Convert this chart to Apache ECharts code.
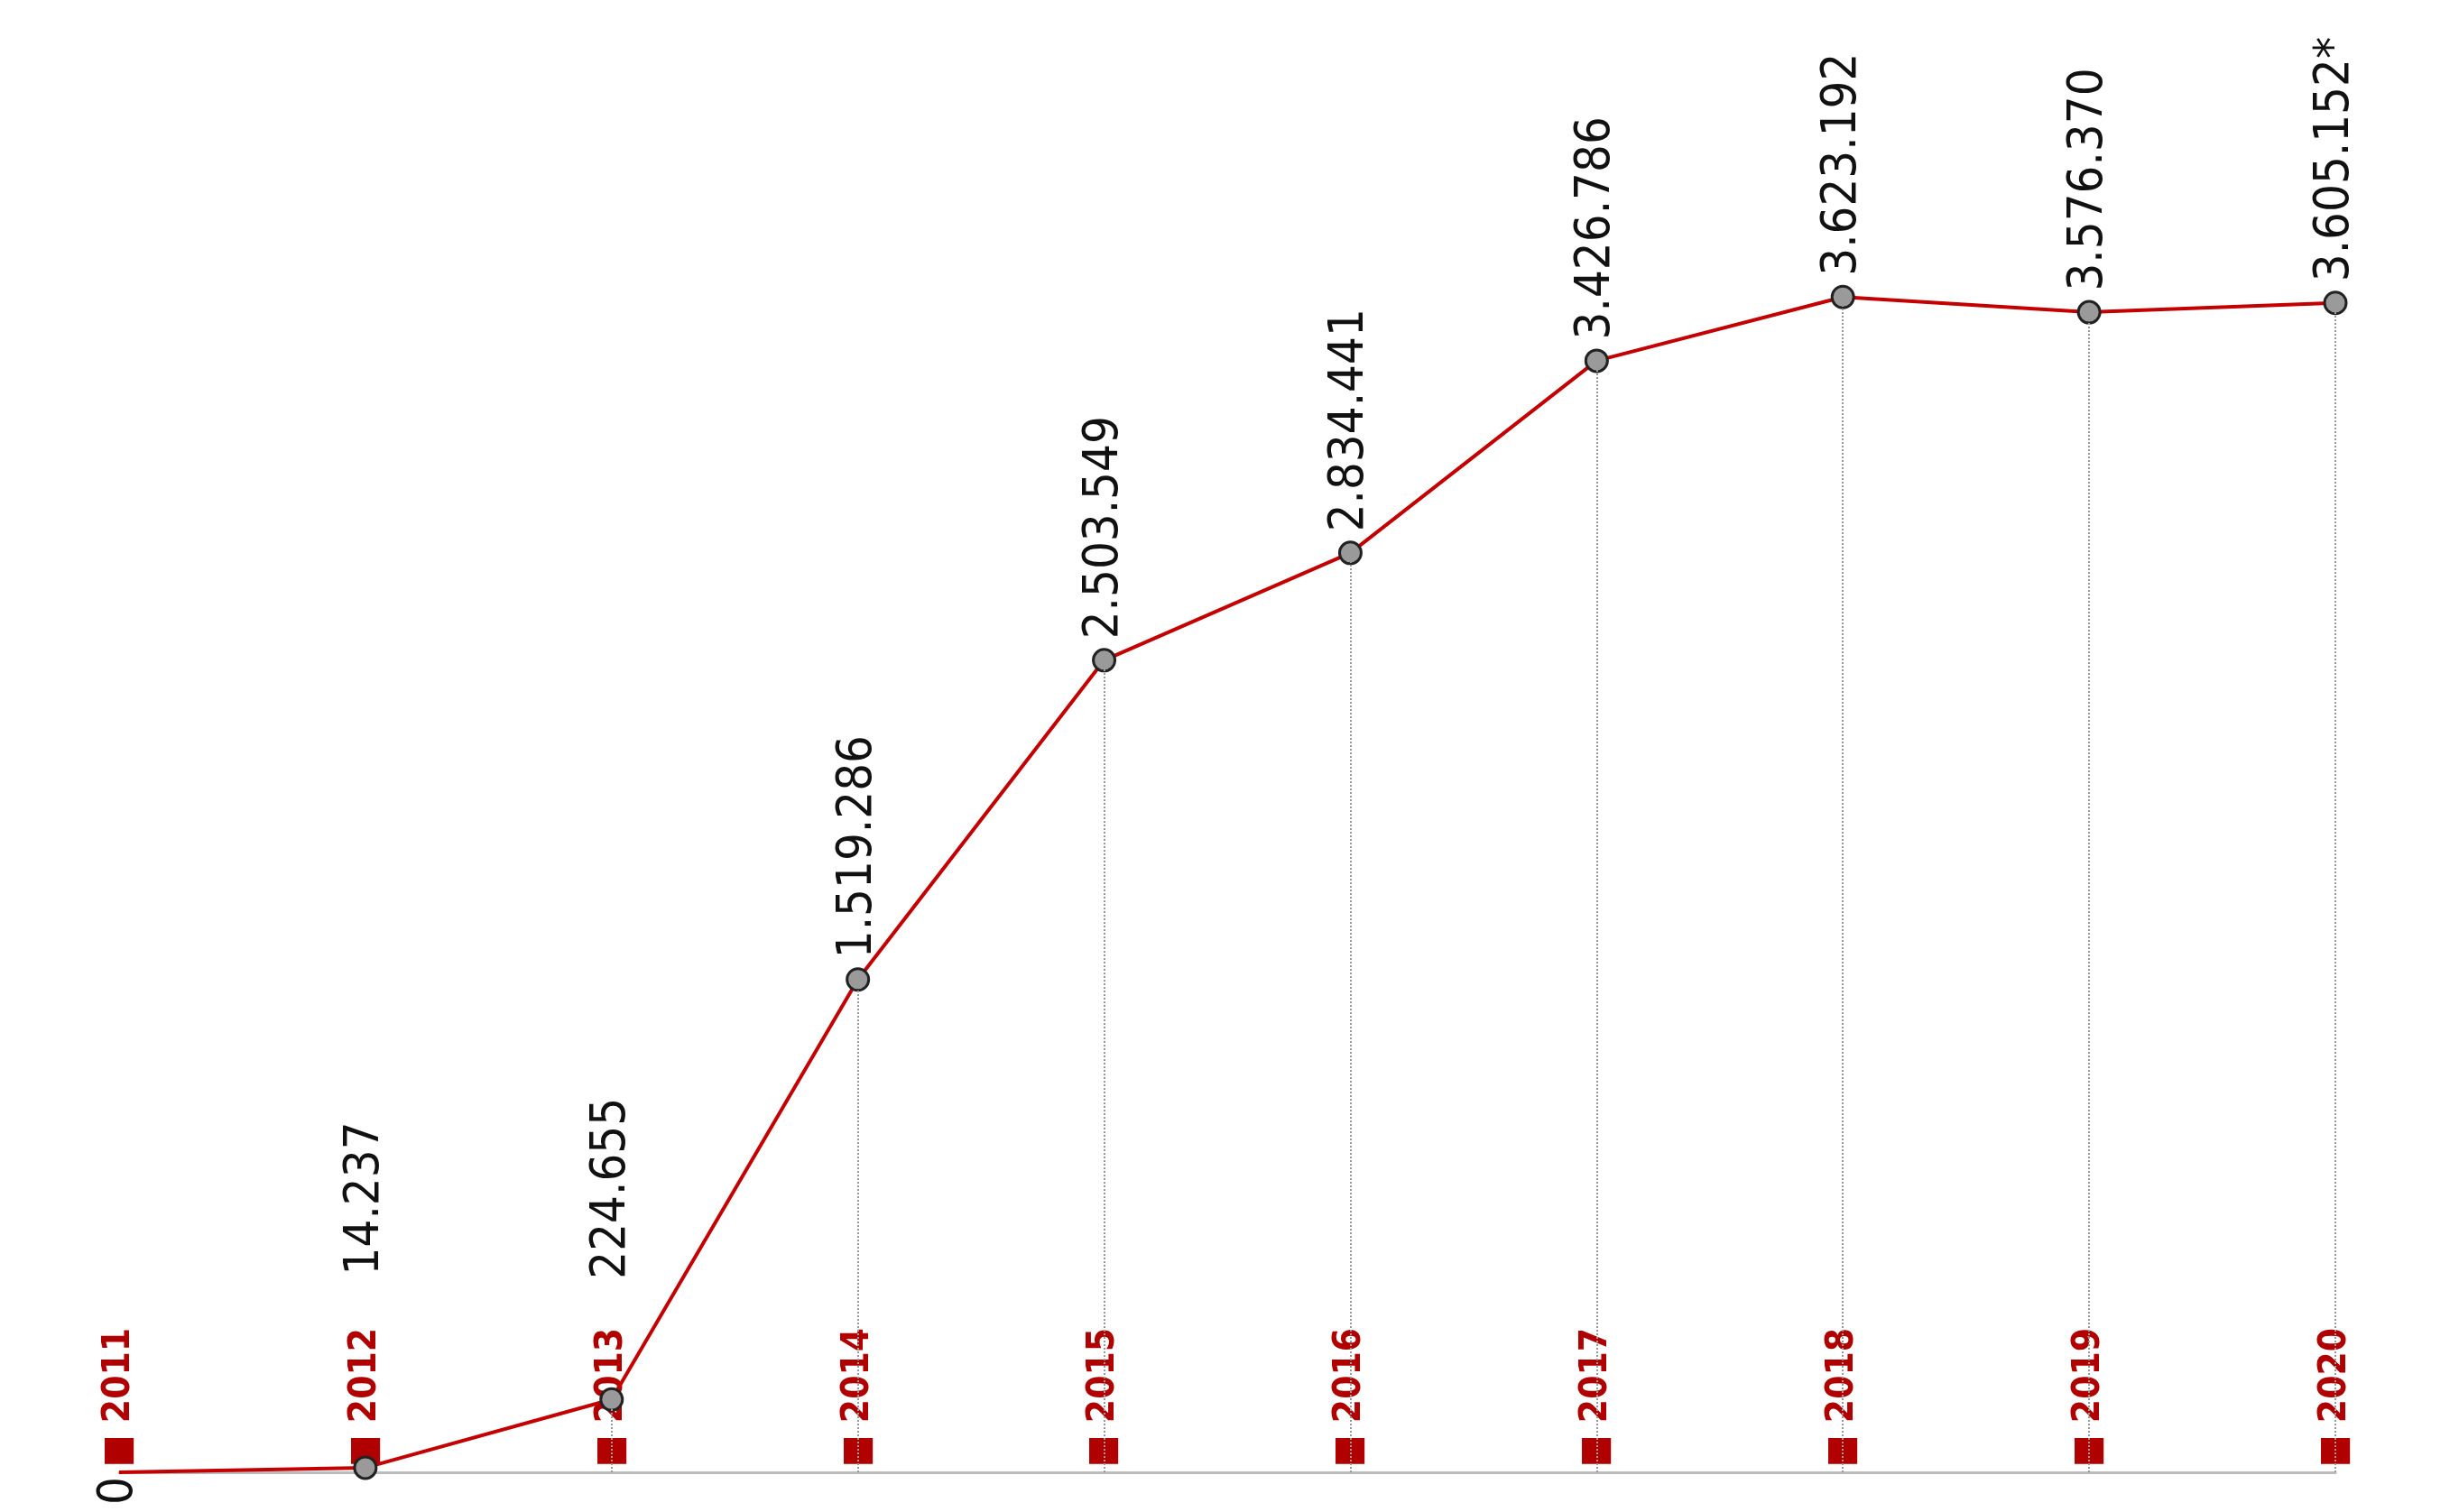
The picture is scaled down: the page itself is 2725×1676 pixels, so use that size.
<!DOCTYPE html>
<html>
<head>
<meta charset="utf-8">
<script src="https://cdn.jsdelivr.net/npm/echarts@6/dist/echarts.min.js"></script>
<style>html,body{margin:0;background:#fff}#c{width:2725px;height:1676px}</style>
</head>
<body>
<div id="c"></div>
<script>
const years = ['2011', '2012', '2013', '2014', '2015', '2016', '2017', '2018', '2019', '2020']
const values = [0, 14237, 224655, 1519286, 2503549, 2834441, 3426786, 3623192, 3576370, 3605152]
const notes = ['', '', '', '', '', '', '', '', '', '*']

const font = "'Liberation Sans Narrow', 'DejaVu Sans Condensed', 'Roboto', sans-serif"
const fmt = v => String(v).replace(/\B(?=(\d{3})+(?!\d))/g, '.')

// keep value labels of the lowest points clear of the year labels
const labelDistance = i => i === 1 ? 200 : i === 2 ? 120 : 10

const el = echarts.init(document.getElementById('c'))
el.setOption({
  animation: false,
  grid: { left: 132, right: 137, top: 14, bottom: 44 },
  xAxis: {
    type: 'category',
    boundaryGap: false,
    data: years,
    axisLine: { lineStyle: { color: '#bbb', width: 3 } },
    axisTick: { show: false },
    axisLabel: {
      inside: true,
      rotate: 90,
      margin: 6,
      color: '#b00000',
      fontFamily: font,
      fontWeight: 'bold',
      fontSize: 42,
      formatter: v => '■ ' + v
    }
  },
  yAxis: { type: 'value', min: 0, max: 4500000, show: false, splitLine: { show: false } },
  series: [{
    type: 'line',
    z: 3,
    data: values.map((v, i) => i === 0
      ? { value: v, label: { position: 'bottom', align: 'right' }, symbolSize: 0 }
      : { value: v, label: { distance: labelDistance(i) } }),
    symbol: 'circle',
    symbolSize: 24,
    itemStyle: { color: '#9a9a9a', borderColor: '#222', borderWidth: 3 },
    lineStyle: { color: '#c40000', width: 4 },
    label: {
      show: true,
      position: 'top',
      rotate: 90,
      align: 'left',
      verticalAlign: 'middle',
      color: '#111',
      fontFamily: font,
      fontSize: 54,
      formatter: p => fmt(p.value) + notes[p.dataIndex]
    },
    markLine: {
      silent: true,
      symbol: 'none',
      label: { show: false },
      lineStyle: { color: '#999', type: 'dotted', width: 2 },
      data: years.slice(1).map((y, i) => [{ coord: [y, 0] }, { coord: [y, values[i + 1]] }])
    }
  }]
})
</script>
</body>
</html>
